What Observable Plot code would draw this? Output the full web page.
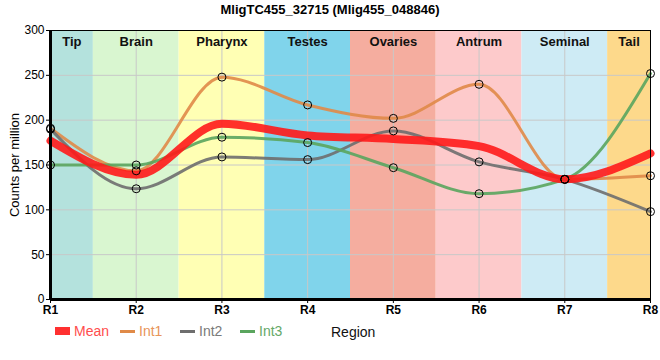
<!DOCTYPE html>
<html><head>
<meta charset="utf-8">
<script src="https://cdn.jsdelivr.net/npm/d3@7"></script>
<script src="https://cdn.jsdelivr.net/npm/@observablehq/plot@0.6"></script>
<style>
body{margin:0;background:#fff;font-family:"Liberation Sans",Arial,sans-serif;}
#wrap{position:relative;width:660px;height:360px;overflow:hidden;}
#title{position:absolute;top:2px;left:0;width:660px;text-align:center;font-weight:bold;font-size:13px;line-height:16px;}
#chart{position:absolute;top:22px;left:0;}
.leg{position:absolute;top:323px;font-size:14px;line-height:16px;white-space:nowrap;}
.sw{position:absolute;}
</style></head><body>
<div id="wrap">
  <div id="title">MligTC455_32715 (Mlig455_048846)</div>
  <div id="chart"></div>
  <div id="legend"></div>
</div>
<script>
const xLabels = ["R1","R2","R3","R4","R5","R6","R7","R8"];
const regions = ["Tip","Brain","Pharynx","Testes","Ovaries","Antrum","Seminal","Tail"];
const regionColors = ["#b4e2dd","#d9f6d0","#ffffb4","#80d4eb","#f5ad9f","#fdcacb","#ceebf5","#fdd98b"];
const mean = [177, 139, 196, 183, 179, 171, 134, 163];
const int1 = [191, 143.5, 248, 217, 202, 240, 134, 138];
const int2 = [190, 123.5, 159, 156, 188, 153.5, 134, 98];
const int3 = [150, 150, 181, 175, 147, 118, 134, 252];
const seriesNames = ["Mean","Int1","Int2","Int3"];
const seriesColors = ["#ff1a1a","#e08a48","#6e6e6e","#5aa55e"];
const legendTextColors = ["#ff4d4d","#e8955a","#7a7a7a","#65a869"];
const yTicks = [0,50,100,150,200,250,300];

const n = xLabels.length;
const bands = regions.map((r,i)=>({
  region: r, color: regionColors[i],
  x1: Math.max(i+1-0.5, 1), x2: Math.min(i+1+0.5, n)
}));
const toRows = (arr,name)=>arr.map((v,i)=>({x:i+1, y:v, s:name}));
const intRows = [...toRows(int1,"Int1"),...toRows(int2,"Int2"),...toRows(int3,"Int3")];
const meanRows = toRows(mean,"Mean");

const chart = Plot.plot({
  width: 660, height: 300,
  marginTop: 8, marginBottom: 23, marginLeft: 50, marginRight: 10,
  style: {fontFamily: '"Liberation Sans", Arial, sans-serif', fontSize: "12px", background: "transparent"},
  x: {domain: [1, n], ticks: d3.range(1, n+1), tickFormat: d => xLabels[d-1], label: null},
  y: {domain: [0, 300], ticks: yTicks, label: null},
  marks: [
    Plot.rect(bands, {x1: "x1", x2: "x2", y1: 0, y2: 300, fill: "color"}),
    Plot.gridX(d3.range(1, n+1), {stroke: "#c8c8c8", strokeOpacity: 1}),
    Plot.gridY(yTicks, {stroke: "#c8c8c8", strokeOpacity: 1}),
    Plot.text(bands, {x: d => (d.x1 + d.x2)/2, y: 300, text: "region", dy: 11, fontWeight: "bold", fontSize: 13, fill: "#111"}),
    Plot.line(int1.map((v,i)=>({x:i+1,y:v})), {x:"x", y:"y", stroke: seriesColors[1], strokeWidth: 3, strokeOpacity: 0.9, curve: "monotone-x"}),
    Plot.line(int2.map((v,i)=>({x:i+1,y:v})), {x:"x", y:"y", stroke: seriesColors[2], strokeWidth: 3, strokeOpacity: 0.9, curve: "monotone-x"}),
    Plot.line(int3.map((v,i)=>({x:i+1,y:v})), {x:"x", y:"y", stroke: seriesColors[3], strokeWidth: 3, strokeOpacity: 0.9, curve: "monotone-x"}),
    Plot.line(meanRows, {x:"x", y:"y", stroke: seriesColors[0], strokeWidth: 8, strokeOpacity: 0.9, curve: "monotone-x"}),
    Plot.dot(intRows, {x:"x", y:"y", r: 4, stroke: "#000", strokeWidth: 1, fill: "none"}),
    Plot.frame({stroke: "#000", strokeWidth: 1}),
    Plot.ruleX([1], {stroke: "#000", strokeWidth: 3}),
    Plot.ruleY([0], {stroke: "#000", strokeWidth: 3}),
    Plot.axisY({ticks: yTicks, tickSize: 4, tickPadding: 2, label: "Counts per million", labelAnchor: "center", labelArrow: "none", labelOffset: 41, fontSize: 12}),
    Plot.axisX({ticks: d3.range(1, n+1), tickFormat: d => xLabels[d-1], tickSize: 4, tickPadding: 2, label: null, fontWeight: "bold", fontSize: 12})
  ]
});
chart.querySelectorAll('[aria-label="y-axis label"] text').forEach(t=>t.setAttribute("font-size","13px"));
document.getElementById("chart").appendChild(chart);

// legend
const legend = document.getElementById("legend");
const legX = [55, 120, 180, 240];
seriesNames.forEach((name,i)=>{
  const sw = document.createElement("div");
  sw.className = "sw";
  const h = i===0 ? 8 : 3;
  sw.style.cssText = `left:${legX[i]}px;top:${331-h/2}px;width:15px;height:${h}px;background:${seriesColors[i]};opacity:${i===0?0.9:1}`;
  legend.appendChild(sw);
  const t = document.createElement("div");
  t.className = "leg";
  t.style.left = (legX[i]+19)+"px";
  t.style.color = legendTextColors[i];
  t.textContent = name;
  legend.appendChild(t);
});
const rl = document.createElement("div");
rl.className = "leg";
rl.style.left = "331px";
rl.style.top = "324px";
rl.style.color = "#111";
rl.textContent = "Region";
legend.appendChild(rl);
</script>
</body></html>
